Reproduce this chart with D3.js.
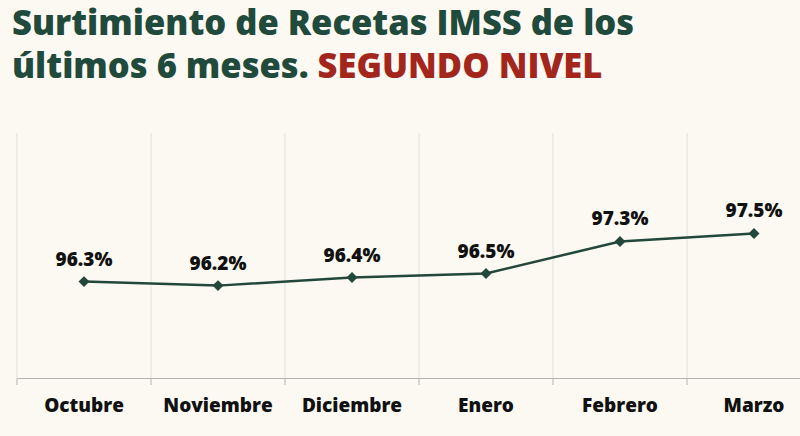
<!DOCTYPE html>
<html><head><meta charset="utf-8">
<script src="https://cdn.jsdelivr.net/npm/d3@7"></script>
<style>body{margin:0;background:#fbf9f1;}</style>
</head><body>
<div id="chart"></div>
<script>
var months = ['Octubre', 'Noviembre', 'Diciembre', 'Enero', 'Febrero', 'Marzo'];
var values = [96.3, 96.2, 96.4, 96.5, 97.3, 97.5];

var width = 800, height = 436;
var svg = d3.select('#chart').append('svg')
    .attr('width', width).attr('height', height);

svg.append('rect').attr('width', width).attr('height', height).attr('fill', '#fbf9f1');

var title = svg.append('text')
    .attr('font-family', 'Open Sans, sans-serif')
    .attr('font-weight', 800).attr('font-size', 34.5).attr('fill', '#1f4a3c');
title.append('tspan').attr('x', 12).attr('y', 35).text('Surtimiento de Recetas IMSS de los');
title.append('tspan').attr('x', 12).attr('y', 78).text('últimos 6 meses. ');
title.append('tspan').attr('fill', '#a3261d').text('SEGUNDO NIVEL');

var x = d3.scaleBand().domain(months).range([17, 821]);
var y = d3.scaleLinear().domain([93.9, 100]).range([378, 133]);

// vertical gridlines
svg.selectAll('.grid').data(months).enter().append('line')
    .attr('x1', function(d){ return x(d); }).attr('x2', function(d){ return x(d); })
    .attr('y1', 133).attr('y2', 378)
    .attr('stroke', '#e2e0d8').attr('stroke-width', 1);

var axis = svg.append('g').attr('transform', 'translate(0,378)')
    .call(d3.axisBottom(x).tickSize(0).tickPadding(21));
axis.select('.domain').attr('stroke', '#b5b3ad');
axis.selectAll('text').attr('font-family', 'Open Sans, sans-serif')
    .attr('font-weight', 800).attr('font-size', 19).attr('fill', '#111');
svg.selectAll('.tk').data(months).enter().append('line')
    .attr('x1', function(d){ return x(d); }).attr('x2', function(d){ return x(d); })
    .attr('y1', 378).attr('y2', 385).attr('stroke', '#b5b3ad');

var line = d3.line()
    .x(function(d, i){ return x(months[i]) + x.bandwidth() / 2; })
    .y(function(d){ return y(d); });

svg.append('path').datum(values).attr('d', line)
    .attr('fill', 'none').attr('stroke', '#23473a').attr('stroke-width', 2.5);

svg.selectAll('.pt').data(values).enter().append('path')
    .attr('d', d3.symbol(d3.symbolSquare, 60))
    .attr('transform', function(d, i){
        return 'translate(' + (x(months[i]) + x.bandwidth() / 2) + ',' + y(d) + ') rotate(45)';
    })
    .attr('fill', '#23473a');

svg.selectAll('.lbl').data(values).enter().append('text')
    .attr('x', function(d, i){ return x(months[i]) + x.bandwidth() / 2; })
    .attr('y', function(d){ return y(d) - 16; })
    .attr('text-anchor', 'middle')
    .attr('font-family', 'Open Sans, sans-serif').attr('font-weight', 800)
    .attr('font-size', 19).attr('fill', '#111')
    .text(function(d){ return d.toFixed(1) + '%'; });
</script>
</body></html>
